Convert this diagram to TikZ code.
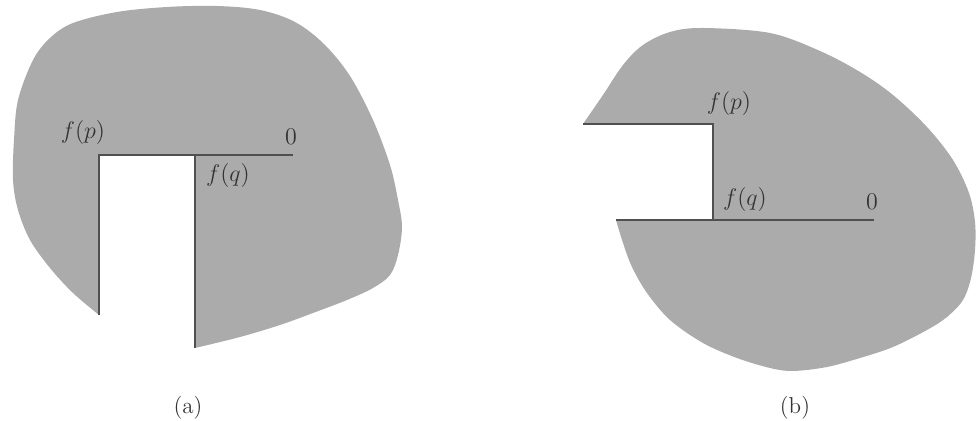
\documentclass[tikz,border=0pt]{standalone}
\begin{document}
\begin{tikzpicture}[x=0.5pt,y=-0.5pt,
  region/.style={fill=blobgray},
  edge/.style={draw=linegray,line width=0.9pt},
  lbl/.style={font=\fontsize{12}{14}\selectfont,inner sep=0pt,text=black!80},
  captxt/.style={font=\fontsize{11.5}{13}\selectfont,inner sep=0pt,text=black!80}]
\definecolor{blobgray}{HTML}{ABABAB}
\definecolor{linegray}{HTML}{505050}
\useasboundingbox (0,0) rectangle (976,421);
% ---------- (a)
\coordinate (a1) at (195,348);
\coordinate (a2) at (195,155);
\coordinate (a3) at (99,155);
\coordinate (a4) at (99,315);
\coordinate (a0) at (293,155);
\fill[region] (a1) -- (a2) -- (a3) -- (a4)
  -- plot[smooth,tension=0.55] coordinates {(99,315) (73,293) (50,268) (30,240) (18,210) (13,180) (14,140) (18,100) (33,60) (50,38) (73,23) (117,12) (167,7) (217,6) (260,10) (295,22) (324,44) (350,76) (373,120) (390,165) (398,200) (402,227) (398,255) (390,275) (373,288) (347,300) (313,313) (280,325) (240,337) (195,348)} -- cycle;
\draw[edge] (a4) -- (a3) -- (a2) -- (a1);
\draw[edge] (a2) -- (a0);
\node[lbl] (fpa) at (83,133) {$f(p)$};
\node[lbl] (fqa) at (228,176) {$f(q)$};
\node[lbl] (za) at (291,137) {$0$};
\node[captxt] (capa) at (188,408) {(a)};
% ---------- (b)
\coordinate (b1) at (583,124);
\coordinate (b2) at (713,124);
\coordinate (b3) at (713,220);
\coordinate (b4) at (616,220);
\coordinate (b0) at (874,220);
\fill[region] (b1) -- (b2) -- (b3) -- (b4)
  -- plot[smooth,tension=0.55] coordinates {(616,220) (623,243) (632,267) (647,293) (670,320) (703,343) (737,358) (770,368) (793,371) (827,367) (860,358) (893,347) (927,330) (947,317) (963,300) (971,278) (975,250) (975,222) (969,193) (953,160) (927,127) (893,95) (860,72) (820,51) (770,33) (703,28) (670,32) (643,45) (623,65) (603,95) (583,124)} -- cycle;
\draw[edge] (b1) -- (b2) -- (b3);
\draw[edge] (b4) -- (b0);
\node[lbl] (fpb) at (729,104) {$f(p)$};
\node[lbl] (fqb) at (745,200) {$f(q)$};
\node[lbl] (zb) at (872,202) {$0$};
\node[captxt] (capb) at (795,408) {(b)};
\end{tikzpicture}
\end{document}
